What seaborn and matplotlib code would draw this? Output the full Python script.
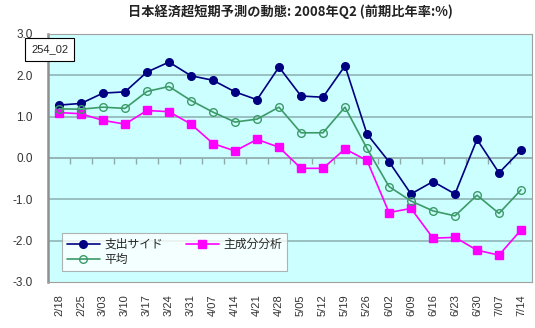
import matplotlib
matplotlib.use("Agg")
import matplotlib.pyplot as plt
import seaborn as sns
import pandas as pd
import numpy as np

dates = ["2/18", "2/25", "3/03", "3/10", "3/17", "3/24", "3/31", "4/07", "4/14", "4/21", "4/28",
         "5/05", "5/12", "5/19", "5/26", "6/02", "6/09", "6/16", "6/23", "6/30", "7/07", "7/14"]
spending = [1.28, 1.32, 1.57, 1.60, 2.08, 2.32, 1.99, 1.88, 1.60, 1.41, 2.20,
            1.50, 1.47, 2.23, 0.58, -0.09, -0.87, -0.57, -0.87, 0.45, -0.36, 0.19]
pca = [1.10, 1.07, 0.91, 0.82, 1.15, 1.12, 0.82, 0.35, 0.17, 0.45, 0.26,
       -0.25, -0.25, 0.22, -0.06, -1.32, -1.22, -1.94, -1.92, -2.23, -2.35, -1.74]
average = [1.19, 1.18, 1.23, 1.20, 1.61, 1.73, 1.39, 1.11, 0.87, 0.94, 1.23,
           0.61, 0.61, 1.23, 0.23, -0.69, -1.04, -1.28, -1.40, -0.90, -1.34, -0.77]
series_names = ["支出サイド", "主成分分析", "平均"]
title = "日本経済超短期予測の動態: 2008年Q2 (前期比年率:%)"
yticks = [3.0, 2.0, 1.0, 0.0, -1.0, -2.0, -3.0]

sns.set_theme(style="white")
plt.rcParams['font.family'] = ['Noto Sans CJK JP', 'DejaVu Sans']

fig = plt.figure(figsize=(5.35, 3.28), dpi=100)
ax = fig.add_axes([48/535, 1-282/328, 484/535, 248/328])
ax.set_facecolor("#CCFFFF")

idx = np.arange(len(dates))
df = pd.DataFrame({"idx": idx, series_names[0]: spending,
                   series_names[1]: pca, series_names[2]: average})

styles = [
    dict(color="#000080", marker="o", markersize=5.5, markerfacecolor="#000080", markeredgecolor="#000080"),
    dict(color="#FF00FF", marker="s", markersize=5.5, markerfacecolor="#FF00FF", markeredgecolor="#FF00FF"),
    dict(color="#3C9A68", marker="o", markersize=5.5, markerfacecolor="none", markeredgecolor="#3C9A68"),
]
for name, st in zip(series_names, styles):
    sns.lineplot(data=df, x="idx", y=name, ax=ax, label=name, linewidth=1.2,
                 markeredgewidth=1.0, **st)

ax.set_xlim(-0.5, len(dates) - 0.5)
ax.set_ylim(-3, 3)
for v in yticks:
    if v not in (3.0, -3.0, 0.0):
        ax.axhline(v, color="#8FB5B5", linewidth=1.2, zorder=0)
ax.axhline(0, color="#8FA8A8", linewidth=1.2, zorder=1)

ax.set_yticks(yticks)
ax.set_yticklabels([f"{v:.1f}" for v in yticks], family="Liberation Sans", fontsize=8.5, color="#333333")
ax.set_xticks(idx)
ax.set_xticklabels(dates, rotation=90, family="Liberation Sans", fontsize=8, color="#333333")
ax.tick_params(axis="x", length=0, pad=9)
ax.tick_params(axis="y", length=0, pad=11)
ax.set_xlabel("")
ax.set_ylabel("")

sec = ax.secondary_xaxis(0.5)
sec.set_xticks(idx[:-1] + 0.5)
sec.set_xticklabels([])
sec.tick_params(direction="in", length=4, color="#8FA8A8", width=1)
sec.spines["bottom"].set_visible(False)
sec.spines["top"].set_visible(False)

for s in ["top", "right", "bottom"]:
    ax.spines[s].set_color("#A0A0A0")
    ax.spines[s].set_linewidth(0.8)
ax.spines["left"].set_color("#909090")
ax.spines["left"].set_linewidth(1.8)

handles, labels = ax.get_legend_handles_labels()
order = [0, 2, 1]
leg = ax.legend([handles[i] for i in order], [labels[i] for i in order],
                loc="lower left", bbox_to_anchor=(0.029, 0.044, 0.465, 0.166), mode="expand",
                ncol=2, frameon=True, fancybox=False, fontsize=8.5, handlelength=2.8,
                borderaxespad=0, labelspacing=0.2, handletextpad=0.4, columnspacing=1.0)
leg.get_frame().set_edgecolor("#A0A0A0")
leg.get_frame().set_facecolor("white")
leg.get_frame().set_linewidth(0.8)

fig.text(290/535, 1-12/328, title, ha="center", va="center", fontsize=9.5,
         fontweight="bold", color="#222222")
fig.text(49.5/535, 1-49.5/328, "254_02", ha="center", va="center", fontsize=8,
         family="Liberation Sans",
         bbox=dict(boxstyle="square,pad=0.55", facecolor="white", edgecolor="black", linewidth=0.8))

fig.savefig("out.png", dpi=100)
